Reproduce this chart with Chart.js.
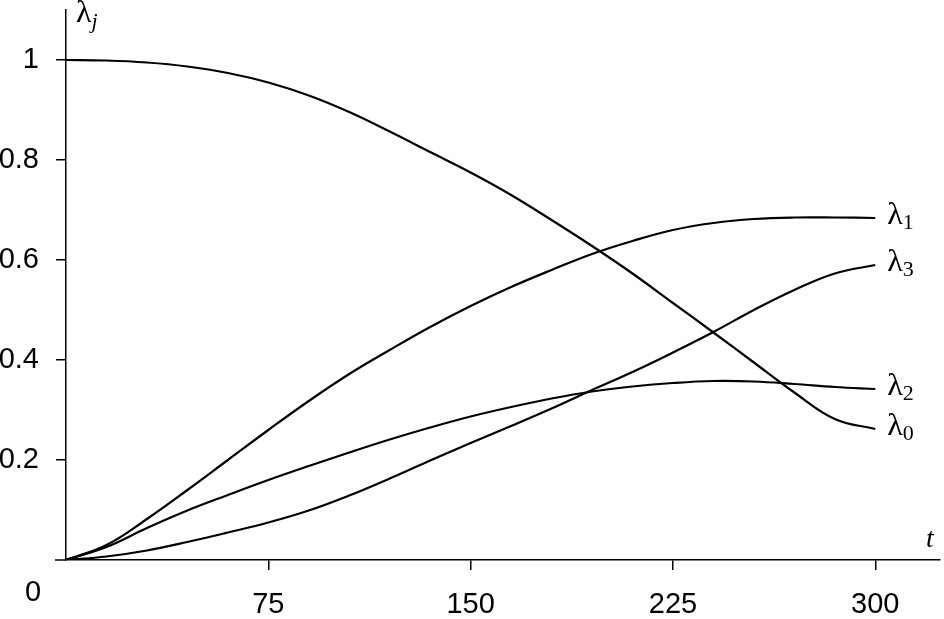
<!DOCTYPE html>
<html>
<head>
<meta charset="utf-8">
<script src="https://cdn.jsdelivr.net/npm/chart.js@4"></script>
<style>
  body { margin: 0; background: #fff; }
  #wrap { width: 944px; height: 619px; }
</style>
</head>
<body>
<div id="wrap"><canvas id="chart"></canvas></div>
<script>
const tValues = [0, 15, 30, 45, 60, 75, 90, 105, 120, 135, 150, 165, 180, 195, 210, 225, 240, 255, 270, 285, 300];
const lambda0 = [1.0, 0.999, 0.995, 0.987, 0.974, 0.955, 0.929, 0.896, 0.857, 0.816, 0.775, 0.73, 0.68, 0.628, 0.573, 0.514, 0.455, 0.395, 0.335, 0.282, 0.262];
const lambda1 = [0, 0.03, 0.082, 0.14, 0.2, 0.26, 0.318, 0.372, 0.42, 0.466, 0.508, 0.546, 0.58, 0.612, 0.638, 0.66, 0.674, 0.682, 0.685, 0.685, 0.684];
const lambda2 = [0, 0.026, 0.064, 0.099, 0.13, 0.16, 0.188, 0.215, 0.241, 0.265, 0.287, 0.306, 0.323, 0.337, 0.347, 0.354, 0.358, 0.357, 0.352, 0.346, 0.342];
const lambda3 = [0, 0.007, 0.019, 0.036, 0.055, 0.075, 0.099, 0.129, 0.163, 0.199, 0.234, 0.268, 0.303, 0.34, 0.376, 0.415, 0.456, 0.5, 0.54, 0.573, 0.59];
const seriesNames = ['0', '1', '2', '3'];
const xTicks = [75, 150, 225, 300];
const yTicks = [0.2, 0.4, 0.6, 0.8, 1];

function toPoints(ys) {
  return tValues.map((t, i) => ({ x: t, y: ys[i] }));
}

const allSeries = [lambda0, lambda1, lambda2, lambda3];

// series labels, origin "0" and axis names
const labelPlugin = {
  id: 'labels',
  afterDraw(chart) {
    const ctx = chart.ctx;
    const xs = chart.scales.x, ys = chart.scales.y;
    ctx.save();
    ctx.fillStyle = '#000';
    ctx.textBaseline = 'middle';
    allSeries.forEach((s, i) => {
      const px = xs.getPixelForValue(tValues[tValues.length - 1]) + 12;
      const py = ys.getPixelForValue(s[s.length - 1]) - 2;
      ctx.font = '32px "Liberation Serif"';
      ctx.textAlign = 'left';
      ctx.fillText('λ', px, py);
      const w = ctx.measureText('λ').width;
      ctx.font = '22px "Liberation Serif"';
      ctx.fillText(seriesNames[i], px + w, py + 7);
    });
    // y axis name
    ctx.font = '32px "Liberation Serif"';
    ctx.fillText('λ', xs.left + 10, 14);
    const w = ctx.measureText('λ').width;
    ctx.font = 'italic 22px "Liberation Serif"';
    ctx.fillText('j', xs.left + 10 + w, 22);
    // x axis name
    ctx.font = 'italic 28px "Liberation Serif"';
    ctx.fillText('t', xs.right - 14, ys.bottom - 20);
    // shared origin label
    ctx.font = '29px "Liberation Sans"';
    ctx.textAlign = 'center';
    ctx.fillText('0', 33, 593);
    // x axis line extends a little to the left
    ctx.strokeStyle = '#000';
    ctx.lineWidth = 1.5;
    ctx.beginPath();
    ctx.moveTo(xs.left - 11, ys.bottom);
    ctx.lineTo(xs.left, ys.bottom);
    ctx.stroke();
    ctx.restore();
  }
};

new Chart(document.getElementById('chart'), {
  type: 'line',
  data: {
    datasets: allSeries.map(s => ({
      data: toPoints(s),
      borderColor: '#000',
      borderWidth: 2.2,
      pointRadius: 0,
      fill: false,
      tension: 0.4
    }))
  },
  options: {
    animation: false,
    responsive: true,
    maintainAspectRatio: false,
    layout: { padding: { top: 10, right: 4, left: 0, bottom: 0 } },
    plugins: { legend: { display: false }, tooltip: { enabled: false } },
    scales: {
      x: {
        type: 'linear',
        min: 0,
        max: 324,
        afterBuildTicks(axis) { axis.ticks = xTicks.map(v => ({ value: v })); },
        afterFit(axis) { axis.height = 59; axis.paddingLeft = 0; axis.paddingRight = 0; },
        grid: { drawOnChartArea: false, drawTicks: true, tickLength: 10, color: '#000', lineWidth: 1.5 },
        border: { display: true, color: '#000', width: 1.5 },
        ticks: { color: '#000', font: { family: 'Liberation Sans', size: 29 }, padding: 18, maxRotation: 0 }
      },
      y: {
        min: 0,
        max: 1.1,
        afterBuildTicks(axis) { axis.ticks = yTicks.map(v => ({ value: v })); },
        afterFit(axis) { axis.width = 66; axis.paddingTop = 0; axis.paddingBottom = 0; },
        grid: { drawOnChartArea: false, drawTicks: true, tickLength: 10, color: '#000', lineWidth: 1.5 },
        border: { display: true, color: '#000', width: 1.5 },
        ticks: { color: '#000', font: { family: 'Liberation Sans', size: 29 }, padding: 17, callback: v => String(v) }
      }
    }
  },
  plugins: [labelPlugin]
});
</script>
</body>
</html>
